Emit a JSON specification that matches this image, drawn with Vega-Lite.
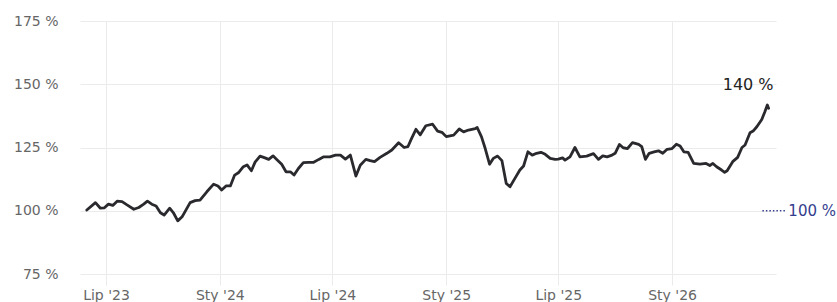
{
  "$schema": "https://vega.github.io/schema/vega-lite/v6.json",
  "width": 696,
  "height": 253,
  "autosize": {"type": "none"},
  "padding": {"left": 80, "top": 21, "right": 61, "bottom": 28},
  "background": "white",
  "config": {"view": {"stroke": null}, "font": "DejaVu Sans"},
  "datasets": {
    "series": [
      {"date": "2023-05-31", "value": 100.3},
      {"date": "2023-06-14", "value": 103.2},
      {"date": "2023-06-22", "value": 101.0},
      {"date": "2023-06-28", "value": 101.1},
      {"date": "2023-07-05", "value": 102.6},
      {"date": "2023-07-12", "value": 102.1},
      {"date": "2023-07-19", "value": 103.8},
      {"date": "2023-07-27", "value": 103.6},
      {"date": "2023-08-04", "value": 102.3},
      {"date": "2023-08-15", "value": 100.6},
      {"date": "2023-08-23", "value": 101.3},
      {"date": "2023-08-31", "value": 102.6},
      {"date": "2023-09-06", "value": 103.8},
      {"date": "2023-09-13", "value": 102.6},
      {"date": "2023-09-20", "value": 101.9},
      {"date": "2023-09-27", "value": 99.2},
      {"date": "2023-10-03", "value": 98.3},
      {"date": "2023-10-12", "value": 101.0},
      {"date": "2023-10-18", "value": 99.2},
      {"date": "2023-10-25", "value": 96.0},
      {"date": "2023-11-01", "value": 97.6},
      {"date": "2023-11-14", "value": 103.2},
      {"date": "2023-11-22", "value": 104.0},
      {"date": "2023-11-30", "value": 104.2},
      {"date": "2023-12-11", "value": 107.5},
      {"date": "2023-12-22", "value": 110.5},
      {"date": "2023-12-29", "value": 109.8},
      {"date": "2024-01-04", "value": 108.2},
      {"date": "2024-01-11", "value": 109.8},
      {"date": "2024-01-18", "value": 109.8},
      {"date": "2024-01-25", "value": 114.1},
      {"date": "2024-01-31", "value": 115.0},
      {"date": "2024-02-08", "value": 117.4},
      {"date": "2024-02-14", "value": 118.1},
      {"date": "2024-02-21", "value": 115.8},
      {"date": "2024-02-27", "value": 119.2},
      {"date": "2024-03-06", "value": 121.6},
      {"date": "2024-03-14", "value": 120.9},
      {"date": "2024-03-20", "value": 120.3},
      {"date": "2024-03-27", "value": 121.7},
      {"date": "2024-04-02", "value": 120.3},
      {"date": "2024-04-10", "value": 118.4},
      {"date": "2024-04-17", "value": 115.4},
      {"date": "2024-04-24", "value": 115.4},
      {"date": "2024-04-30", "value": 114.1},
      {"date": "2024-05-07", "value": 116.7},
      {"date": "2024-05-15", "value": 119.0},
      {"date": "2024-05-23", "value": 119.1},
      {"date": "2024-05-31", "value": 119.1},
      {"date": "2024-06-09", "value": 120.3},
      {"date": "2024-06-17", "value": 121.3},
      {"date": "2024-06-27", "value": 121.3},
      {"date": "2024-07-06", "value": 122.0},
      {"date": "2024-07-14", "value": 122.0},
      {"date": "2024-07-22", "value": 120.4},
      {"date": "2024-07-30", "value": 122.0},
      {"date": "2024-08-08", "value": 113.7},
      {"date": "2024-08-15", "value": 118.0},
      {"date": "2024-08-24", "value": 120.3},
      {"date": "2024-08-31", "value": 119.8},
      {"date": "2024-09-07", "value": 119.4},
      {"date": "2024-09-16", "value": 121.1},
      {"date": "2024-09-27", "value": 122.7},
      {"date": "2024-10-05", "value": 124.0},
      {"date": "2024-10-16", "value": 126.9},
      {"date": "2024-10-25", "value": 125.0},
      {"date": "2024-10-31", "value": 125.3},
      {"date": "2024-11-06", "value": 128.6},
      {"date": "2024-11-13", "value": 132.2},
      {"date": "2024-11-20", "value": 130.0},
      {"date": "2024-11-29", "value": 133.6},
      {"date": "2024-12-10", "value": 134.2},
      {"date": "2024-12-18", "value": 131.5},
      {"date": "2024-12-25", "value": 131.0},
      {"date": "2025-01-01", "value": 129.3},
      {"date": "2025-01-13", "value": 129.9},
      {"date": "2025-01-22", "value": 132.3},
      {"date": "2025-01-29", "value": 131.2},
      {"date": "2025-02-06", "value": 131.9},
      {"date": "2025-02-17", "value": 132.5},
      {"date": "2025-02-20", "value": 132.9},
      {"date": "2025-02-27", "value": 129.2},
      {"date": "2025-03-05", "value": 124.6},
      {"date": "2025-03-12", "value": 118.4},
      {"date": "2025-03-18", "value": 120.7},
      {"date": "2025-03-25", "value": 121.6},
      {"date": "2025-04-01", "value": 119.8},
      {"date": "2025-04-08", "value": 110.8},
      {"date": "2025-04-14", "value": 109.5},
      {"date": "2025-04-22", "value": 112.8},
      {"date": "2025-04-30", "value": 116.1},
      {"date": "2025-05-06", "value": 117.7},
      {"date": "2025-05-13", "value": 123.3},
      {"date": "2025-05-20", "value": 122.0},
      {"date": "2025-05-27", "value": 122.7},
      {"date": "2025-06-03", "value": 123.1},
      {"date": "2025-06-10", "value": 122.3},
      {"date": "2025-06-18", "value": 120.7},
      {"date": "2025-06-26", "value": 120.3},
      {"date": "2025-07-01", "value": 120.4},
      {"date": "2025-07-08", "value": 120.9},
      {"date": "2025-07-12", "value": 120.0},
      {"date": "2025-07-20", "value": 121.3},
      {"date": "2025-07-28", "value": 125.0},
      {"date": "2025-08-05", "value": 121.3},
      {"date": "2025-08-16", "value": 121.6},
      {"date": "2025-08-27", "value": 122.6},
      {"date": "2025-09-04", "value": 120.3},
      {"date": "2025-09-11", "value": 121.7},
      {"date": "2025-09-18", "value": 121.3},
      {"date": "2025-09-26", "value": 122.0},
      {"date": "2025-10-01", "value": 122.7},
      {"date": "2025-10-08", "value": 126.2},
      {"date": "2025-10-14", "value": 124.9},
      {"date": "2025-10-21", "value": 124.6},
      {"date": "2025-10-29", "value": 126.9},
      {"date": "2025-11-08", "value": 126.2},
      {"date": "2025-11-13", "value": 125.3},
      {"date": "2025-11-19", "value": 120.3},
      {"date": "2025-11-25", "value": 122.7},
      {"date": "2025-12-03", "value": 123.3},
      {"date": "2025-12-10", "value": 123.7},
      {"date": "2025-12-17", "value": 122.7},
      {"date": "2025-12-24", "value": 124.3},
      {"date": "2026-01-01", "value": 124.6},
      {"date": "2026-01-08", "value": 126.3},
      {"date": "2026-01-14", "value": 125.6},
      {"date": "2026-01-20", "value": 123.3},
      {"date": "2026-01-27", "value": 123.1},
      {"date": "2026-02-05", "value": 118.7},
      {"date": "2026-02-15", "value": 118.4},
      {"date": "2026-02-25", "value": 118.7},
      {"date": "2026-03-03", "value": 117.9},
      {"date": "2026-03-08", "value": 118.7},
      {"date": "2026-03-14", "value": 117.4},
      {"date": "2026-03-22", "value": 116.1},
      {"date": "2026-03-27", "value": 115.2},
      {"date": "2026-03-31", "value": 115.8},
      {"date": "2026-04-09", "value": 119.4},
      {"date": "2026-04-17", "value": 121.1},
      {"date": "2026-04-24", "value": 125.0},
      {"date": "2026-04-29", "value": 126.0},
      {"date": "2026-05-07", "value": 130.8},
      {"date": "2026-05-12", "value": 131.5},
      {"date": "2026-05-18", "value": 133.2},
      {"date": "2026-05-26", "value": 136.1},
      {"date": "2026-05-31", "value": 139.1},
      {"date": "2026-06-04", "value": 141.8},
      {"date": "2026-06-06", "value": 140.5}
    ]
  },
  "layer": [
    {
      "data": {"name": "series"},
      "mark": {"type": "line", "color": "#2a2a2e", "strokeWidth": 2.8, "strokeJoin": "round", "strokeCap": "round"},
      "encoding": {
        "x": {
          "field": "date", "type": "temporal", "title": null,
          "scale": {"type": "utc", "domain": [{"year": 2023, "month": 5, "date": 20, "utc": true}, {"year": 2026, "month": 6, "date": 18, "utc": true}]},
          "axis": {
            "values": [
              {"year": 2023, "month": 7, "date": 1, "utc": true},
              {"year": 2024, "month": 1, "date": 1, "utc": true},
              {"year": 2024, "month": 7, "date": 1, "utc": true},
              {"year": 2025, "month": 1, "date": 1, "utc": true},
              {"year": 2025, "month": 7, "date": 1, "utc": true},
              {"year": 2026, "month": 1, "date": 1, "utc": true}
            ],
            "labelExpr": "(utcmonth(datum.value) == 0 ? 'Sty' : 'Lip') + \" '\" + utcFormat(datum.value, '%y')",
            "grid": true, "gridColor": "#ebebeb", "gridWidth": 1,
            "domain": false, "tickColor": "#ebebeb", "tickSize": 11, "tickWidth": 1,
            "labelPadding": 3, "labelFontSize": 14, "labelColor": "#666666",
            "labelFlush": false, "labelOverlap": false
          }
        },
        "y": {
          "field": "value", "type": "quantitative", "title": null,
          "scale": {"domain": [75, 175], "zero": false, "nice": false},
          "axis": {
            "values": [75, 100, 125, 150, 175],
            "labelExpr": "datum.value + ' %'",
            "grid": true, "gridColor": "#ebebeb", "gridWidth": 1,
            "domain": false, "ticks": false, "labelPadding": 22,
            "labelFontSize": 14, "labelColor": "#666666"
          }
        }
      }
    },
    {
      "data": {"values": [{"date": "2026-06-06", "value": 140.5, "label": "140 %"}]},
      "mark": {"type": "text", "align": "right", "baseline": "alphabetic", "dx": 5, "dy": -18, "fontSize": 16, "color": "#222222"},
      "encoding": {
        "x": {"field": "date", "type": "temporal", "title": null},
        "y": {"field": "value", "type": "quantitative", "title": null},
        "text": {"field": "label"}
      }
    },
    {
      "data": {"values": [{"date": "2026-05-27", "date2": "2026-07-03", "value": 100}]},
      "mark": {"type": "rule", "color": "#343e8e", "strokeWidth": 1.5, "strokeDash": [1.5, 2]},
      "encoding": {
        "x": {"field": "date", "type": "temporal", "title": null},
        "x2": {"field": "date2"},
        "y": {"field": "value", "type": "quantitative", "title": null}
      }
    },
    {
      "data": {"values": [{"date": "2026-07-08", "value": 100, "label": "100 %"}]},
      "mark": {"type": "text", "align": "left", "baseline": "middle", "fontSize": 15, "color": "#343e8e"},
      "encoding": {
        "x": {"field": "date", "type": "temporal", "title": null},
        "y": {"field": "value", "type": "quantitative", "title": null},
        "text": {"field": "label"}
      }
    }
  ]
}
